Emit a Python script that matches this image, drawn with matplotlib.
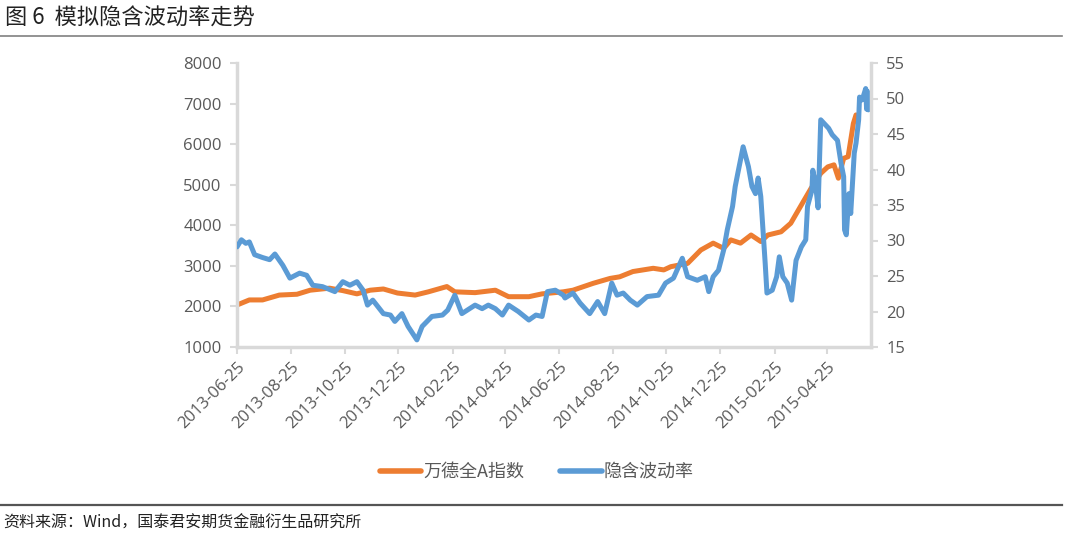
#!/usr/bin/env python3

import numpy as np
import pandas as pd

import matplotlib
matplotlib.use('Agg')
import matplotlib.pyplot as plt

plt.rcParams['font.family'] = ['Noto Sans CJK SC', 'DejaVu Sans']

# 万德全A指数 (left axis)
wind_dates = ['2013-06-25', '2013-07-09', '2013-07-24', '2013-08-12', '2013-09-01',
              '2013-09-16', '2013-10-08', '2013-10-23', '2013-11-08', '2013-11-23',
              '2013-12-08', '2013-12-24', '2014-01-13', '2014-01-28', '2014-02-18',
              '2014-02-27', '2014-03-22', '2014-04-14', '2014-04-29', '2014-05-22',
              '2014-06-06', '2014-06-30', '2014-07-11', '2014-08-03', '2014-08-22',
              '2014-09-02', '2014-09-17', '2014-10-10', '2014-10-22', '2014-10-30',
              '2014-11-18', '2014-12-03', '2014-12-17', '2014-12-29', '2015-01-06',
              '2015-01-17', '2015-01-29', '2015-02-09', '2015-02-17', '2015-03-04',
              '2015-03-15', '2015-03-27', '2015-04-07', '2015-04-18', '2015-04-26',
              '2015-05-03', '2015-05-08', '2015-05-14', '2015-05-19', '2015-05-25',
              '2015-05-28']
wind_index = [2035, 2160, 2160, 2280, 2300,
              2400, 2450, 2390, 2310, 2400,
              2430, 2330, 2280, 2360, 2490,
              2360, 2340, 2400, 2240, 2240,
              2310, 2360, 2400, 2570, 2690,
              2730, 2860, 2940, 2900, 2980,
              3060, 3390, 3560, 3430, 3640,
              3560, 3760, 3600, 3760, 3840,
              4050, 4500, 4910, 5280, 5440,
              5490, 5160, 5650, 5690, 6510,
              6720]

# 隐含波动率 (right axis)
vol_dates = ['2013-06-25', '2013-06-30', '2013-07-05', '2013-07-09', '2013-07-15',
             '2013-07-24', '2013-08-01', '2013-08-07', '2013-08-16', '2013-08-24',
             '2013-09-04', '2013-09-12', '2013-09-19', '2013-09-30', '2013-10-14',
             '2013-10-23', '2013-10-31', '2013-11-08', '2013-11-15', '2013-11-20',
             '2013-11-26', '2013-12-08', '2013-12-16', '2013-12-21', '2013-12-29',
             '2014-01-05', '2014-01-15', '2014-01-21', '2014-02-01', '2014-02-13',
             '2014-02-19', '2014-02-27', '2014-03-07', '2014-03-22', '2014-03-30',
             '2014-04-06', '2014-04-14', '2014-04-22', '2014-04-29', '2014-05-10',
             '2014-05-22', '2014-05-30', '2014-06-06', '2014-06-12', '2014-06-21',
             '2014-06-30', '2014-07-02', '2014-07-11', '2014-07-19', '2014-07-30',
             '2014-08-08', '2014-08-16', '2014-08-24', '2014-08-30', '2014-09-06',
             '2014-09-14', '2014-09-22', '2014-10-03', '2014-10-16', '2014-10-24',
             '2014-11-02', '2014-11-12', '2014-11-18', '2014-11-29', '2014-12-08',
             '2014-12-12', '2014-12-17', '2014-12-23', '2014-12-29', '2015-01-02',
             '2015-01-08', '2015-01-11', '2015-01-14', '2015-01-20', '2015-01-26',
             '2015-01-30', '2015-02-03', '2015-02-06', '2015-02-09', '2015-02-14',
             '2015-02-16', '2015-02-22', '2015-02-27', '2015-03-02', '2015-03-06',
             '2015-03-11', '2015-03-16', '2015-03-21', '2015-03-27', '2015-04-01',
             '2015-04-03', '2015-04-08', '2015-04-09', '2015-04-12', '2015-04-15',
             '2015-04-18', '2015-04-27', '2015-05-01', '2015-05-07', '2015-05-11',
             '2015-05-14', '2015-05-15', '2015-05-17', '2015-05-20', '2015-05-22',
             '2015-05-26', '2015-05-28', '2015-05-31', '2015-06-01', '2015-06-04',
             '2015-06-08', '2015-06-09', '2015-06-10', '2015-06-11']
implied_vol = [29.1, 30.1, 29.6, 29.8, 28.0,
               27.6, 27.3, 28.1, 26.5, 24.7,
               25.4, 25.1, 23.7, 23.5, 22.8,
               24.2, 23.7, 24.2, 23.0, 20.9,
               21.6, 19.7, 19.5, 18.6, 19.7,
               17.9, 16.0, 17.9, 19.3, 19.5,
               20.2, 22.3, 19.7, 20.9, 20.4,
               20.9, 20.4, 19.5, 20.9, 20.0,
               18.8, 19.5, 19.3, 22.8, 23.0,
               22.3, 21.9, 22.6, 21.2, 19.7,
               21.4, 19.7, 24.0, 22.3, 22.6,
               21.6, 20.9, 22.1, 22.3, 24.0,
               24.7, 27.5, 24.9, 24.4, 24.9,
               22.8, 24.9, 25.8, 28.7, 31.5,
               34.8, 37.6, 39.5, 43.2, 40.4,
               37.6, 36.6, 38.8, 36.2, 26.8,
               22.6, 23.0, 24.9, 27.7, 24.9,
               24.0, 21.6, 27.2, 29.1, 30.1,
               34.8, 37.1, 39.9, 38.0, 34.6,
               47.0, 45.8, 44.9, 44.1, 40.9,
               39.0, 31.5, 30.8, 36.6, 33.8,
               42.3, 43.7, 47.0, 50.2, 49.8,
               51.4, 48.5, 51.0, 48.4]

tick_dates = ['2013-06-25', '2013-08-25', '2013-10-25', '2013-12-25', '2014-02-25',
              '2014-04-25', '2014-06-25', '2014-08-25', '2014-10-25', '2014-12-25',
              '2015-02-25', '2015-04-25']

orange = '#ED7D31'
blue = '#5B9BD5'
grey_txt = '#595959'
axis_grey = '#D9D9D9'

fig = plt.figure(figsize=(10.8, 5.38), dpi=100)
ax = fig.add_axes([237 / 1080, 1 - 347 / 538, 634 / 1080, 284 / 538])
ax2 = ax.twinx()

# secondary series drawn on top, like the original
ax.plot(pd.to_datetime(wind_dates), wind_index, color=orange, lw=3.6,
        solid_capstyle='round', solid_joinstyle='round', label='万德全A指数')
ax2.plot(pd.to_datetime(vol_dates), implied_vol, color=blue, lw=3.6,
         solid_capstyle='round', solid_joinstyle='round', label='隐含波动率')

ax.set_xlim(pd.Timestamp('2013-06-25'), pd.Timestamp('2015-06-14'))
ax.set_ylim(1000, 8000)
ax.set_yticks(np.arange(1000, 8001, 1000))
ax2.set_ylim(15, 55)
ax2.set_yticks(np.arange(15, 56, 5))

ticks = pd.to_datetime(tick_dates)
ax.set_xticks(ticks)
ax.set_xticklabels(tick_dates, rotation=45, ha='right', rotation_mode='anchor')

for a in (ax, ax2):
    for s in a.spines.values():
        s.set_visible(False)
    a.tick_params(colors=axis_grey, labelcolor=grey_txt, width=1.5, length=5,
                  labelsize=12)
    for lab in a.get_yticklabels() + a.get_xticklabels():
        lab.set_family(['Open Sans', 'DejaVu Sans'])

ax.spines['left'].set_visible(True)
ax.spines['bottom'].set_visible(True)
ax2.spines['right'].set_visible(True)
for s in (ax.spines['left'], ax.spines['bottom'], ax2.spines['right']):
    s.set_color(axis_grey)
    s.set_linewidth(2.5)
ax.tick_params(axis='x', pad=4)
ax.tick_params(axis='y', pad=6)
ax2.tick_params(axis='y', pad=6)

h1, l1 = ax.get_legend_handles_labels()
h2, l2 = ax2.get_legend_handles_labels()
leg = fig.legend(h1 + h2, l1 + l2, loc='center', bbox_to_anchor=(0.497, 1 - 472 / 538),
                 ncol=2, frameon=False, fontsize=13, handlelength=2.3,
                 handletextpad=0.1, columnspacing=2.0)
for t in leg.get_texts():
    t.set_color(grey_txt)
for ln in leg.get_lines():
    ln.set_linewidth(4)

fig.text(5 / 1080, 1 - 18 / 538, '图 6  模拟隐含波动率走势', fontsize=16, color='#222222',
         ha='left', va='center')
fig.add_artist(plt.Line2D([0, 1062 / 1080], [1 - 36 / 538, 1 - 36 / 538],
                          color='#808080', lw=1.2))
fig.add_artist(plt.Line2D([0, 1062 / 1080], [1 - 505 / 538, 1 - 505 / 538],
                          color='#555555', lw=1.6))
fig.text(3 / 1080, 1 - 523 / 538, '资料来源：Wind，国泰君安期货金融衍生品研究所', fontsize=11.5,
         color='#222222', ha='left', va='center')

fig.savefig('out.png', dpi=100)
